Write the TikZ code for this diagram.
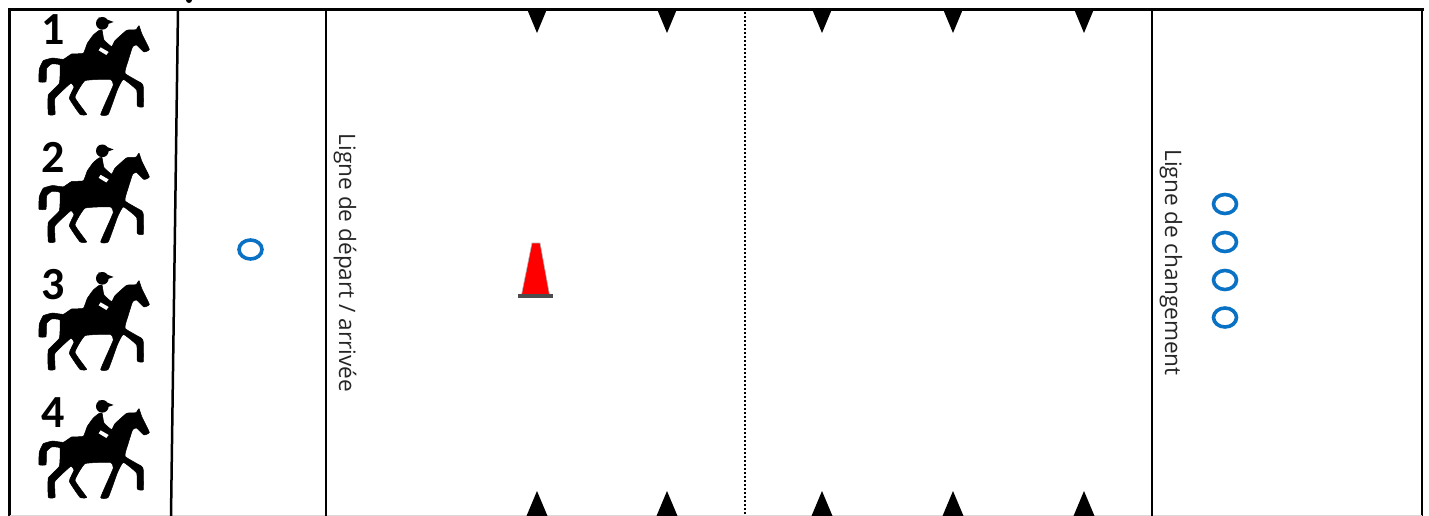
\documentclass[tikz,border=0pt]{standalone}
\usepackage{fontspec}
\setmainfont{Open Sans}
\newfontfamily\numfont{Carlito}
\definecolor{ringblue}{HTML}{0A72C4}
\definecolor{conered}{HTML}{FF0000}
\tikzset{
  frameline/.style={draw=black,line width=2.5pt},
  marker/.style={fill=black,draw=none},
  ring/.style={draw=ringblue,line width=3.6pt,fill=none},
  lbl/.style={rotate=-90,font=\fontsize{22.6}{26}\selectfont,text=black!85,inner sep=0pt},
  num/.style={font=\numfont\bfseries\fontsize{46}{46}\selectfont,inner sep=0pt},
  pics/horse/.style={code={
    \begin{scope}[x=0.3333pt,y=-0.3333pt]
    \filldraw[black,line width=0.5pt,line join=round] plot[smooth cycle,tension=0.22] coordinates {
      (117,245)(118,207)(130,182)(158,174)(190,178)(215,162)(250,160)(262,130)(280,105)(296,92)
      (306,90)(312,120)(335,140)(345,122)(380,91)(408,89)(417,77)(425,100)(448,148)(432,156)
      (410,135)(398,140)(385,180)(375,220)(425,250)(430,262)(430,320)(412,318)(410,270)(370,238)
      (352,270)(325,343)(302,343)(340,255)(330,238)(255,242)(225,292)(260,343)(240,343)(208,295)
      (222,262)(212,250)(165,295)(165,343)(145,343)(145,285)(178,250)(180,195)(155,192)(140,205)(138,245)};
    \fill[black] (307,70) circle[radius=19];
    \fill[black] (295,52)--(325,60)--(341,66)--(318,74)--cycle;
    \fill[white] (302,142)--(326,156)--(319,165)--(296,151)--cycle;
    \end{scope}}}
}
\begin{document}
\begin{tikzpicture}[x=1pt,y=-1pt]
\useasboundingbox (0,0) rectangle (1429,516);
\fill[white] (0,0) rectangle (1429,516);
\begin{scope}
\clip (0,0) rectangle (1429,516);
\fill[black] (189,0) circle[radius=3];
\draw[frameline,line width=3pt] (8,9.5)--(1423.5,9.5);
\draw[frameline] (9.5,9.5)--(9.5,516);
\draw[frameline] (1422,9.5)--(1422,516);
\draw[draw=black!15,line width=1.5pt] (9.5,515.5)--(1422,515.5);
\draw[frameline] (178,9.5)--(171,516);
\draw[frameline] (326,9.5)--(326,516);
\draw[frameline] (1152,9.5)--(1152,516);
\draw[black,line width=2pt,dash pattern=on 2pt off 2pt] (744.5,12)--(744.5,516);
\foreach \px in {537,667,822,953,1084}{
  \fill[marker] (\px-10,9)--(\px+10,9)--(\px,33)--cycle;
  \fill[marker] (\px-10.5,516)--(\px+10.5,516)--(\px,491)--cycle;
}
\foreach \py/\n in {0/1,127.5/2,255/3,383/4}{
  \pic at (0,\py) {horse};
  \node[num] (n\n) at (53.5,\py+30) {\n};
}
\draw[ring] (250.5,249.5) ellipse[x radius=11.5,y radius=9.5];
\foreach \py in {204,242,280,317.5}{
  \draw[ring] (1225,\py) ellipse[x radius=11.5,y radius=9.5];
}
\fill[conered,draw=gray!60,line width=0.6pt] (532,243)--(540,243)--(549.5,295)--(521.5,295)--cycle;
\fill[black!70] (518,294) rectangle (553,297.5);
\node[lbl] (start) at (345,263) {Ligne de départ / arrivée};
\node[lbl] (change) at (1171,262.5) {Ligne de changement};
\end{scope}
\end{tikzpicture}
\end{document}
